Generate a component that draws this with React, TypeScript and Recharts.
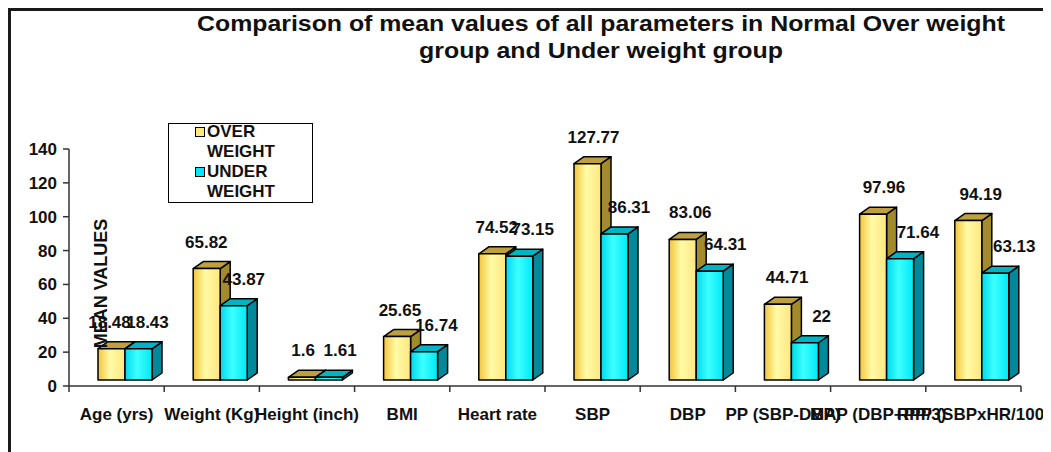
import React from 'react';
import { BarChart, Bar, XAxis, YAxis, Legend, LabelList, Customized } from 'recharts';

const categories = ['Age (yrs)', 'Weight (Kg)', 'Height (inch)', 'BMI', 'Heart rate', 'SBP', 'DBP', 'PP (SBP-DBP)', 'MAP (DBP+PP/3)', 'RPP (SBPxHR/100)'];
const overWeight = [18.48, 65.82, 1.6, 25.65, 74.52, 127.77, 83.06, 44.71, 97.96, 94.19];
const underWeight = [18.43, 43.87, 1.61, 16.74, 73.15, 86.31, 64.31, 22, 71.64, 63.13];
const yTicks = [0, 20, 40, 60, 80, 100, 120, 140];
const titleLines = ['Comparison of mean values of all parameters in Normal Over weight', 'group and Under weight group'];
const seriesNames = ['OVER WEIGHT', 'UNDER WEIGHT'];

const data = categories.map((c, i) => ({ name: c, over: overWeight[i], under: underWeight[i] }));

const FONT = '"Liberation Sans", Arial, sans-serif';
const TXT = '#111111';
const DX = 10;
const DY = -7;
const SX = 8;
const SY = -6;

const makeShape = (gradId: string, topColor: string, sideColor: string) => (props: any) => {
  const { x, y, width, height } = props;
  if (x == null || y == null) return null;
  const fx = x + SX;
  const fy = y + SY;
  const w = width;
  const h = Math.max(height, 0);
  return (
    <g stroke="#000" strokeWidth={1.5} strokeLinejoin="round">
      <polygon points={`${fx + w},${fy} ${fx + w + DX},${fy + DY} ${fx + w + DX},${fy + h + DY} ${fx + w},${fy + h}`} fill={sideColor} />
      <polygon points={`${fx},${fy} ${fx + DX},${fy + DY} ${fx + w + DX},${fy + DY} ${fx + w},${fy}`} fill={topColor} />
      <rect x={fx} y={fy} width={w} height={h} fill={`url(#${gradId})`} />
    </g>
  );
};

const OverShape = makeShape('gOver', '#BFA040', '#A38A2A');
const UnderShape = makeShape('gUnder', '#00B4C4', '#00899A');

const makeLabel = (base: number, step: number) => (props: any) => {
  const { x, y, width, value, index } = props;
  const cx = x + SX + width / 2 + base + step * index;
  const cy = y + SY - 27;
  return (
    <text x={cx} y={cy + 6} textAnchor="middle" fontFamily={FONT} fontWeight="bold" fontSize={17} fill={TXT}>
      {value}
    </text>
  );
};

const XTick = (props: any) => {
  const { x, y, payload, index, visibleTicksCount } = props;
  const off = payload && payload.offset != null ? payload.offset : 47.6;
  const last = index === (visibleTicksCount || categories.length) - 1;
  return (
    <g>
      <line x1={x - off} x2={x - off} y1={y - 6} y2={y} stroke="#333" strokeWidth={1.5} />
      {last && <line x1={x + off} x2={x + off} y1={y - 6} y2={y} stroke="#333" strokeWidth={1.5} />}
      <text x={x} y={y + 28} textAnchor="middle" fontFamily={FONT} fontWeight="bold" fontSize={17} fill={TXT}>
        {payload.value}
      </text>
    </g>
  );
};

const LegendBox = () => {
  const colors = ['#FFE97A', '#00E8F8'];
  return (
    <div style={{ width: 145, height: 80, border: '1.5px solid #000', boxSizing: 'border-box', background: '#fff', fontFamily: FONT, fontWeight: 'bold', fontSize: 17, color: TXT, lineHeight: '20px', paddingLeft: 26, paddingTop: 0 }}>
      {seriesNames.map((n, i) => (
        <div key={n} style={{ display: 'flex', alignItems: 'flex-start', marginTop: i === 0 ? -2 : 0 }}>
          <span style={{ display: 'inline-block', width: 8, height: 8, border: '1.5px solid #000', background: colors[i], marginTop: 5, marginRight: 2, flex: 'none' }} />
          <span style={{ width: 85 }}>{n}</span>
        </div>
      ))}
    </div>
  );
};

const Title = () => (
  <g fontFamily={FONT} fontWeight="bold" fontSize={22} fill={TXT} textAnchor="middle">
    <text x={590} y={20} textLength={808} lengthAdjust="spacingAndGlyphs">{titleLines[0]}</text>
    <text x={590} y={47} textLength={364} lengthAdjust="spacingAndGlyphs">{titleLines[1]}</text>
  </g>
);

const YLabel = (props: any) => {
  const vb = props.viewBox || {};
  const cx = (vb.x || 0) + (vb.width || 0) + 32;
  const cy = (vb.y || 0) + (vb.height || 0) / 2 + 16;
  return (
    <text x={cx} y={cy} transform={`rotate(-90, ${cx}, ${cy})`} textAnchor="middle" dominantBaseline="central" fontFamily={FONT} fontWeight="bold" fontSize={18} fill={TXT}>
      MEAN VALUES
    </text>
  );
};

export default function App() {
  return (
    <div style={{ width: 1042, height: 450, border: '3px solid #1a1a1a', boxSizing: 'border-box', position: 'relative', background: '#fff' }}>
      <BarChart width={1036} height={440} data={data} margin={{ top: 138, right: 26, left: 8, bottom: 25 }} barGap={0} barSize={27}>
        <defs>
          <linearGradient id="gOver" x1="0" y1="0" x2="1" y2="0">
            <stop offset="0" stopColor="#F2C43C" />
            <stop offset="0.45" stopColor="#FFFBA6" />
            <stop offset="1" stopColor="#FFE680" />
          </linearGradient>
          <linearGradient id="gUnder" x1="0" y1="0" x2="1" y2="0">
            <stop offset="0" stopColor="#00D9EA" />
            <stop offset="0.45" stopColor="#3CFFFF" />
            <stop offset="1" stopColor="#00E8F6" />
          </linearGradient>
        </defs>
        <XAxis dataKey="name" interval={0} tickLine={false} tickSize={6} tickMargin={0} tick={<XTick />} axisLine={{ stroke: '#333', strokeWidth: 1.5 }} height={40} />
        <YAxis domain={[0, 140]} ticks={yTicks} width={50} tickSize={6} tickMargin={6} axisLine={{ stroke: '#333', strokeWidth: 1.5 }} tickLine={{ stroke: '#333', strokeWidth: 1.5 }} tick={{ fontFamily: FONT, fontWeight: 'bold', fontSize: 17, fill: TXT }} label={<YLabel />} />
        <Legend layout="vertical" align="center" verticalAlign="middle" content={<LegendBox />} wrapperStyle={{ left: 157, top: 112, width: 145, height: 80 }} />
        <Bar dataKey="over" name={seriesNames[0]} fill="#FFE97A" shape={<OverShape />} isAnimationActive={false}>
          <LabelList dataKey="over" content={makeLabel(-2, 1.6)} />
        </Bar>
        <Bar dataKey="under" name={seriesNames[1]} fill="#00E8F8" shape={<UnderShape />} isAnimationActive={false}>
          <LabelList dataKey="under" content={makeLabel(9, 1.1)} />
        </Bar>
        <Customized component={Title} />
      </BarChart>
    </div>
  );
}
